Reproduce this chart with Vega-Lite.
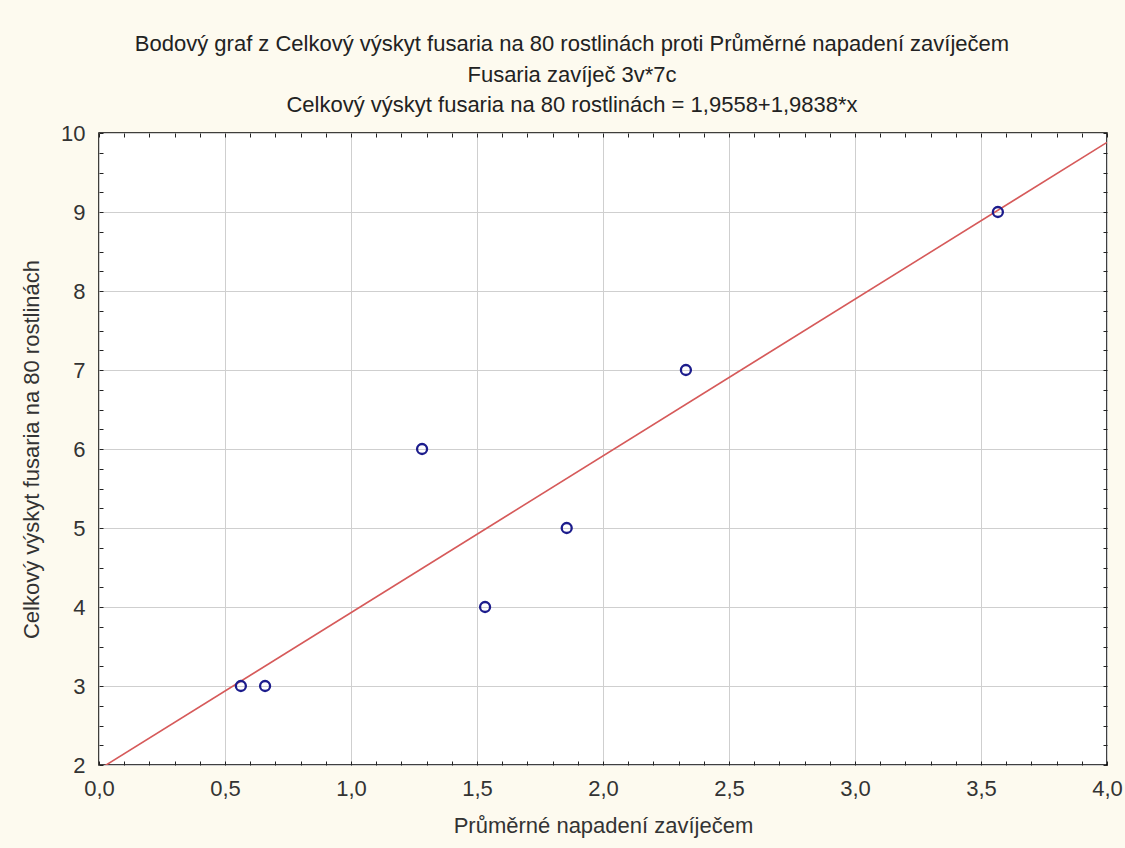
{
  "$schema": "https://vega.github.io/schema/vega-lite/v6.json",
  "width": 1008,
  "height": 632,
  "autosize": {"type": "none"},
  "padding": {"left": 99, "top": 133, "right": 18, "bottom": 83},
  "background": "#fdfaef",
  "config": {
    "font": "Liberation Sans",
    "view": {"fill": "white", "stroke": "black", "strokeWidth": 1.5}
  },
  "title": {
    "text": [
      "Bodový graf z Celkový výskyt fusaria na 80 rostlinách proti Průměrné napadení zavíječem",
      "Fusaria zavíječ 3v*7c",
      "Celkový výskyt fusaria na 80 rostlinách = 1,9558+1,9838*x"
    ],
    "fontSize": 22,
    "fontWeight": "normal",
    "color": "#222222",
    "lineHeight": 30.5,
    "offset": 5,
    "anchor": "middle",
    "dx": -31
  },
  "data": {
    "values": [
      {"napadeni": 0.563, "fusaria": 3},
      {"napadeni": 0.659, "fusaria": 3},
      {"napadeni": 1.282, "fusaria": 6},
      {"napadeni": 1.532, "fusaria": 4},
      {"napadeni": 1.856, "fusaria": 5},
      {"napadeni": 2.329, "fusaria": 7},
      {"napadeni": 3.567, "fusaria": 9}
    ]
  },
  "layer": [
    {
      "transform": [{"regression": "fusaria", "on": "napadeni", "extent": [0, 4]}],
      "mark": {"type": "line", "color": "#d65a5a", "strokeWidth": 1.6, "clip": true},
      "encoding": {
        "x": {
          "field": "napadeni", "type": "quantitative",
          "scale": {"domain": [0, 4], "nice": false, "zero": false},
          "axis": {
            "orient": "top", "title": null, "labels": false, "grid": false, "domain": false,
            "values": [0,0.1,0.2,0.3,0.4,0.5,0.6,0.7,0.8,0.9,1,1.1,1.2,1.3,1.4,1.5,1.6,1.7,1.8,1.9,2,2.1,2.2,2.3,2.4,2.5,2.6,2.7,2.8,2.9,3,3.1,3.2,3.3,3.4,3.5,3.6,3.7,3.8,3.9,4],
            "tickSize": -4, "tickColor": "#222222", "tickWidth": 1
          }
        },
        "y": {
          "field": "fusaria", "type": "quantitative",
          "scale": {"domain": [2, 10], "nice": false, "zero": false},
          "axis": {
            "orient": "right", "title": null, "labels": false, "grid": false, "domain": false,
            "values": [2,2.25,2.5,2.75,3,3.25,3.5,3.75,4,4.25,4.5,4.75,5,5.25,5.5,5.75,6,6.25,6.5,6.75,7,7.25,7.5,7.75,8,8.25,8.5,8.75,9,9.25,9.5,9.75,10],
            "tickSize": -4, "tickColor": "#222222", "tickWidth": 1
          }
        }
      }
    },
    {
      "mark": {"type": "point", "shape": "circle", "filled": false, "color": "#1c1c8c", "strokeWidth": 2.3, "size": 100, "opacity": 1},
      "encoding": {
        "x": {
          "field": "napadeni", "type": "quantitative",
          "scale": {"domain": [0, 4], "nice": false, "zero": false},
          "title": "Průměrné napadení zavíječem",
          "axis": {
            "orient": "bottom",
            "grid": true,
            "values": [0,0.1,0.2,0.3,0.4,0.5,0.6,0.7,0.8,0.9,1,1.1,1.2,1.3,1.4,1.5,1.6,1.7,1.8,1.9,2,2.1,2.2,2.3,2.4,2.5,2.6,2.7,2.8,2.9,3,3.1,3.2,3.3,3.4,3.5,3.6,3.7,3.8,3.9,4],
            "labelExpr": "(round(datum.value*10) % 5 == 0) ? replace(format(datum.value, '.1f'), '.', ',') : ''",
            "gridColor": "#cfcfcf",
            "gridOpacity": {"condition": {"test": "round(datum.value*10) % 5 == 0", "value": 1}, "value": 0},
            "domain": false,
            "tickSize": -4, "tickColor": "#222222", "tickWidth": 1,
            "labelFontSize": 22, "labelColor": "#333333", "labelPadding": 17,
            "labelFlush": false,
            "titleFontSize": 22, "titleFontWeight": "normal", "titleColor": "#333333", "titlePadding": 16
          }
        },
        "y": {
          "field": "fusaria", "type": "quantitative",
          "scale": {"domain": [2, 10], "nice": false, "zero": false},
          "title": "Celkový výskyt fusaria na 80 rostlinách",
          "axis": {
            "orient": "left",
            "grid": true,
            "values": [2,2.25,2.5,2.75,3,3.25,3.5,3.75,4,4.25,4.5,4.75,5,5.25,5.5,5.75,6,6.25,6.5,6.75,7,7.25,7.5,7.75,8,8.25,8.5,8.75,9,9.25,9.5,9.75,10],
            "labelExpr": "(round(datum.value*4) % 4 == 0) ? format(datum.value, 'd') : ''",
            "gridColor": "#cfcfcf",
            "gridOpacity": {"condition": {"test": "round(datum.value*4) % 4 == 0", "value": 1}, "value": 0},
            "domain": false,
            "tickSize": -4, "tickColor": "#222222", "tickWidth": 1,
            "labelFontSize": 22, "labelColor": "#333333", "labelPadding": 18,
            "labelFlush": false,
            "titleFontSize": 22, "titleFontWeight": "normal", "titleColor": "#333333", "titlePadding": 17
          }
        }
      }
    }
  ],
  "resolve": {"axis": {"x": "independent", "y": "independent"}}
}
